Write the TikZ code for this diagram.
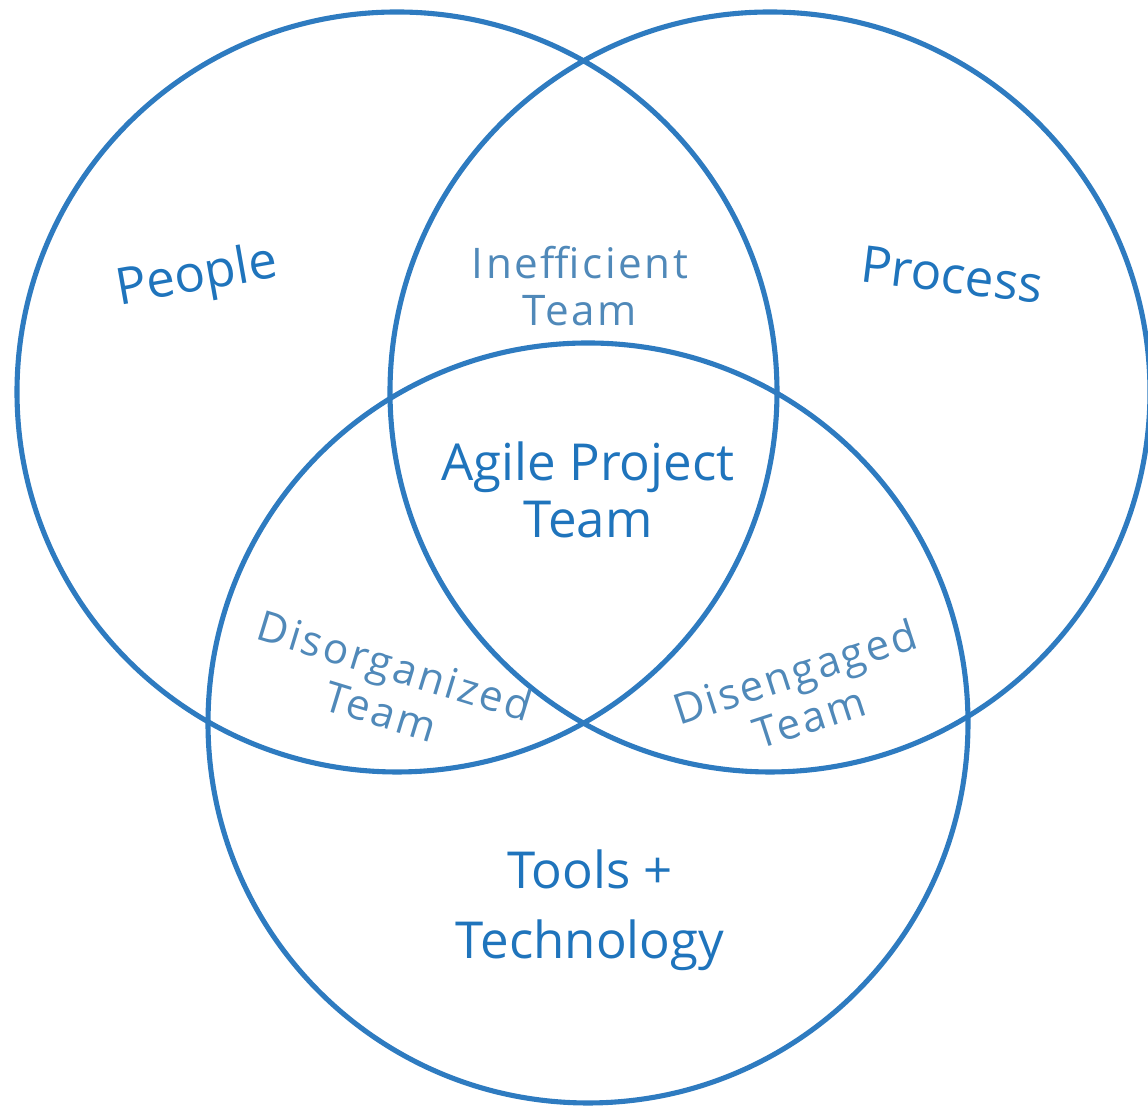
\documentclass[tikz,border=0pt]{standalone}
\usepackage{fontspec}
\setmainfont{Open Sans}
\usetikzlibrary{math}
\usetikzlibrary{positioning}
\definecolor{vennblue}{HTML}{2E7BC0}
\definecolor{labelblue}{HTML}{1F74BC}
\definecolor{softblue}{HTML}{5089B9}

\begin{document}
\begin{tikzpicture}
\tikzset{
  ring/.style={draw=vennblue, line width=1.45pt, circle, inner sep=0pt, minimum size=\d cm},
  big/.style={text=labelblue, align=center, font=\fontsize{14.5}{20}\selectfont},
  small/.style={text=softblue, align=center, font=\fontsize{12}{13.5}\selectfont\addfontfeatures{LetterSpace=6}},
}

\tikzmath{\r=3.8; \d=2*\r;}

\useasboundingbox (0, 0) rectangle (11.48, 11.12);

% the three sets
\node [ring] (people) at (3.97, 7.20) {};
\node [ring] (process) at (7.70, 7.20) {};
\node [ring] (tools) at (5.88, 3.89) {};

\node [big, rotate=10] (peoplelbl) at (1.97, 8.34) {People};
\node [big, rotate=-7] (processlbl) at (9.52, 8.37) {Process};
\node [big] (toolslbl) at (5.90, 2.02) {Tools +\\Technology};

% overlaps
\node [small] (inefficient) at (5.80, 8.26) {Inefficient\\Team};
\node [small, rotate=-17] (disorganized) at (3.88, 4.24) {Disorganized\\Team};
\node [small, rotate=18] (disengaged) at (8.02, 4.18) {Disengaged\\Team};
\node [big, font=\fontsize{14.5}{16}\selectfont] (agile) at (5.88, 6.22) {Agile Project\\Team};
\end{tikzpicture}
\end{document}
